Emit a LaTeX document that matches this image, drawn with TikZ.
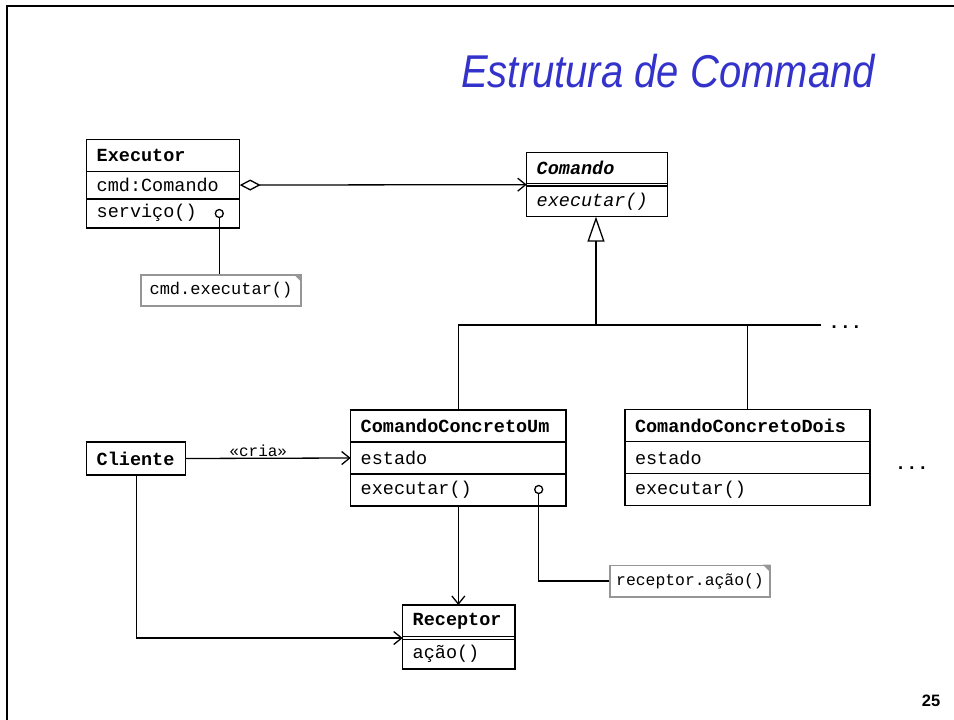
\documentclass[tikz,border=0pt]{standalone}
\usepackage{fontspec}
\setmainfont{Liberation Sans}
\setmonofont{Liberation Mono}
\newfontfamily\titlefont[FakeStretch=0.87]{Liberation Sans}
\usetikzlibrary{positioning,arrows.meta}
\definecolor{titleblue}{RGB}{51,51,204}
\definecolor{notegray}{RGB}{150,150,150}
\begin{document}
\begin{tikzpicture}[x=1pt, y=-1pt, line join=miter, >={Straight Barb[length=8pt,width=13pt]},
	cls/.style={draw, line width=1.4pt, outer sep=0pt, inner xsep=10pt, inner ysep=0pt, align=left, font=\ttfamily\fontsize{18.5}{20}\selectfont},
	clsname/.style={cls, font=\ttfamily\bfseries\fontsize{18.5}{20}\selectfont, minimum height=32pt},
	clsgap/.style={draw, line width=1.4pt, outer sep=0pt, inner sep=0pt, minimum height=2.7pt, minimum width=#1pt},
	note/.style={draw=notegray, line width=1.3pt, minimum width=160pt, minimum height=31pt, font=\ttfamily\fontsize{17}{18}\selectfont},
	dot/.style={circle, draw, line width=1.3pt, fill=white, inner sep=0pt, minimum size=8pt},
	link/.style={line width=1.3pt}]
	\useasboundingbox (0,0) rectangle (954,720);
	\draw[line width=2.4pt] (7,730) -- (7,6) -- (965,6);
	\node[anchor=base west, inner sep=0pt, text=titleblue, font=\titlefont\itshape\fontsize{46}{50}\selectfont] (title) at (461,87) {Estrutura de Command};
	
	\node[clsname, text width=133pt, anchor=north west] (exe) at (86.7,139.3) {Executor};
	\node[cls, text width=133pt, minimum height=27.5pt, below=0pt of exe] (exeattr) {cmd:Comando};
	\node[cls, text width=133pt, minimum height=29pt, below=0pt of exeattr] (exeops) {serviço()};
	\node[dot] (exedot) at (219.3,213.5) {};
	\node[note] (note1) at (221,290.5) {cmd.executar()};
	\fill[notegray] ([xshift=-8pt]note1.north east) -- (note1.north east) -- ([yshift=-8pt]note1.north east) -- cycle;
	\draw[link] (exedot) -- (exedot |- note1.north);
	
	\node[clsname, text width=120.6pt, minimum height=30.6pt, anchor=north west, font=\ttfamily\bfseries\itshape\fontsize{18.5}{20}\selectfont] (com) at (526.7,152.7) {Comando};
	\node[clsgap=140.6, below=0pt of com] (comattr) {};
	\node[cls, text width=120.6pt, minimum height=30.7pt, below=0pt of comattr, font=\ttfamily\itshape\fontsize{18.5}{20}\selectfont] (comops) {executar()};
	\draw[link, {Diamond[open,length=21pt,width=11pt]}->] (exeattr.east) -- (comattr.west);
	
	\coordinate (bar) at (596,325);
	\coordinate (barend) at (821,325);
	\draw[link, -{Triangle[open,length=25pt,width=17pt]}] (bar) -- (bar |- comops.south);
	
	\node[clsname, text width=195.3pt, anchor=north west] (ccu) at (350.7,410) {ComandoConcretoUm};
	\node[cls, text width=195.3pt, minimum height=32pt, below=0pt of ccu] (ccuattr) {estado};
	\node[cls, text width=195.3pt, minimum height=32pt, below=0pt of ccuattr] (ccuops) {executar()};
	\node[dot] (ccudot) at (538.7,489.5) {};
	
	\node[clsname, text width=225pt, anchor=north west] (ccd) at (625,409.5) {ComandoConcretoDois};
	\node[cls, text width=225pt, minimum height=32pt, below=0pt of ccd] (ccdattr) {estado};
	\node[cls, text width=225pt, minimum height=32pt, below=0pt of ccdattr] (ccdops) {executar()};
	\draw[link] (ccu.north) |- (barend);
	\draw[link] (ccd.north) -- (ccd.north |- barend);
	\node[anchor=base west, inner sep=0pt, font=\ttfamily\bfseries\fontsize{18.5}{20}\selectfont] (more1) at (828.5,328) {...};
	\node[anchor=base west, inner sep=0pt, font=\ttfamily\bfseries\fontsize{18.5}{20}\selectfont] (more2) at (895,469) {...};
	
	\node[clsname, text width=79pt, minimum height=33pt, anchor=north west] (cli) at (86.7,442) {Cliente};
	\draw[link, ->] (cli.east) -- (ccuattr.west) node[pos=0.44, anchor=south, inner sep=1pt, font=\ttfamily\fontsize{16}{18}\selectfont] {«cria»};
	
	\node[clsname, text width=92.3pt, minimum height=31.7pt, anchor=north west] (rec) at (402.7,605) {Receptor};
	\node[clsgap=112.3, below=0pt of rec] (recattr) {};
	\node[cls, text width=92.3pt, minimum height=29.7pt, below=0pt of recattr] (recops) {ação()};
	\draw[link, ->] (ccuops.south) -- (ccuops.south |- rec.north);
	\draw[link, ->] (cli.south) |- (recattr.west);
	
	\node[note, minimum height=31.7pt, font=\ttfamily\fontsize{16.4}{18}\selectfont] (note2) at (690,581) {receptor.ação()};
	\fill[notegray] ([xshift=-8pt]note2.north east) -- (note2.north east) -- ([yshift=-8pt]note2.north east) -- cycle;
	\draw[link] (ccudot) |- (note2.west);
	
	\node[font=\bfseries\fontsize{16.5}{18}\selectfont] (pagenum) at (931,701) {25};
\end{tikzpicture}
\end{document}
